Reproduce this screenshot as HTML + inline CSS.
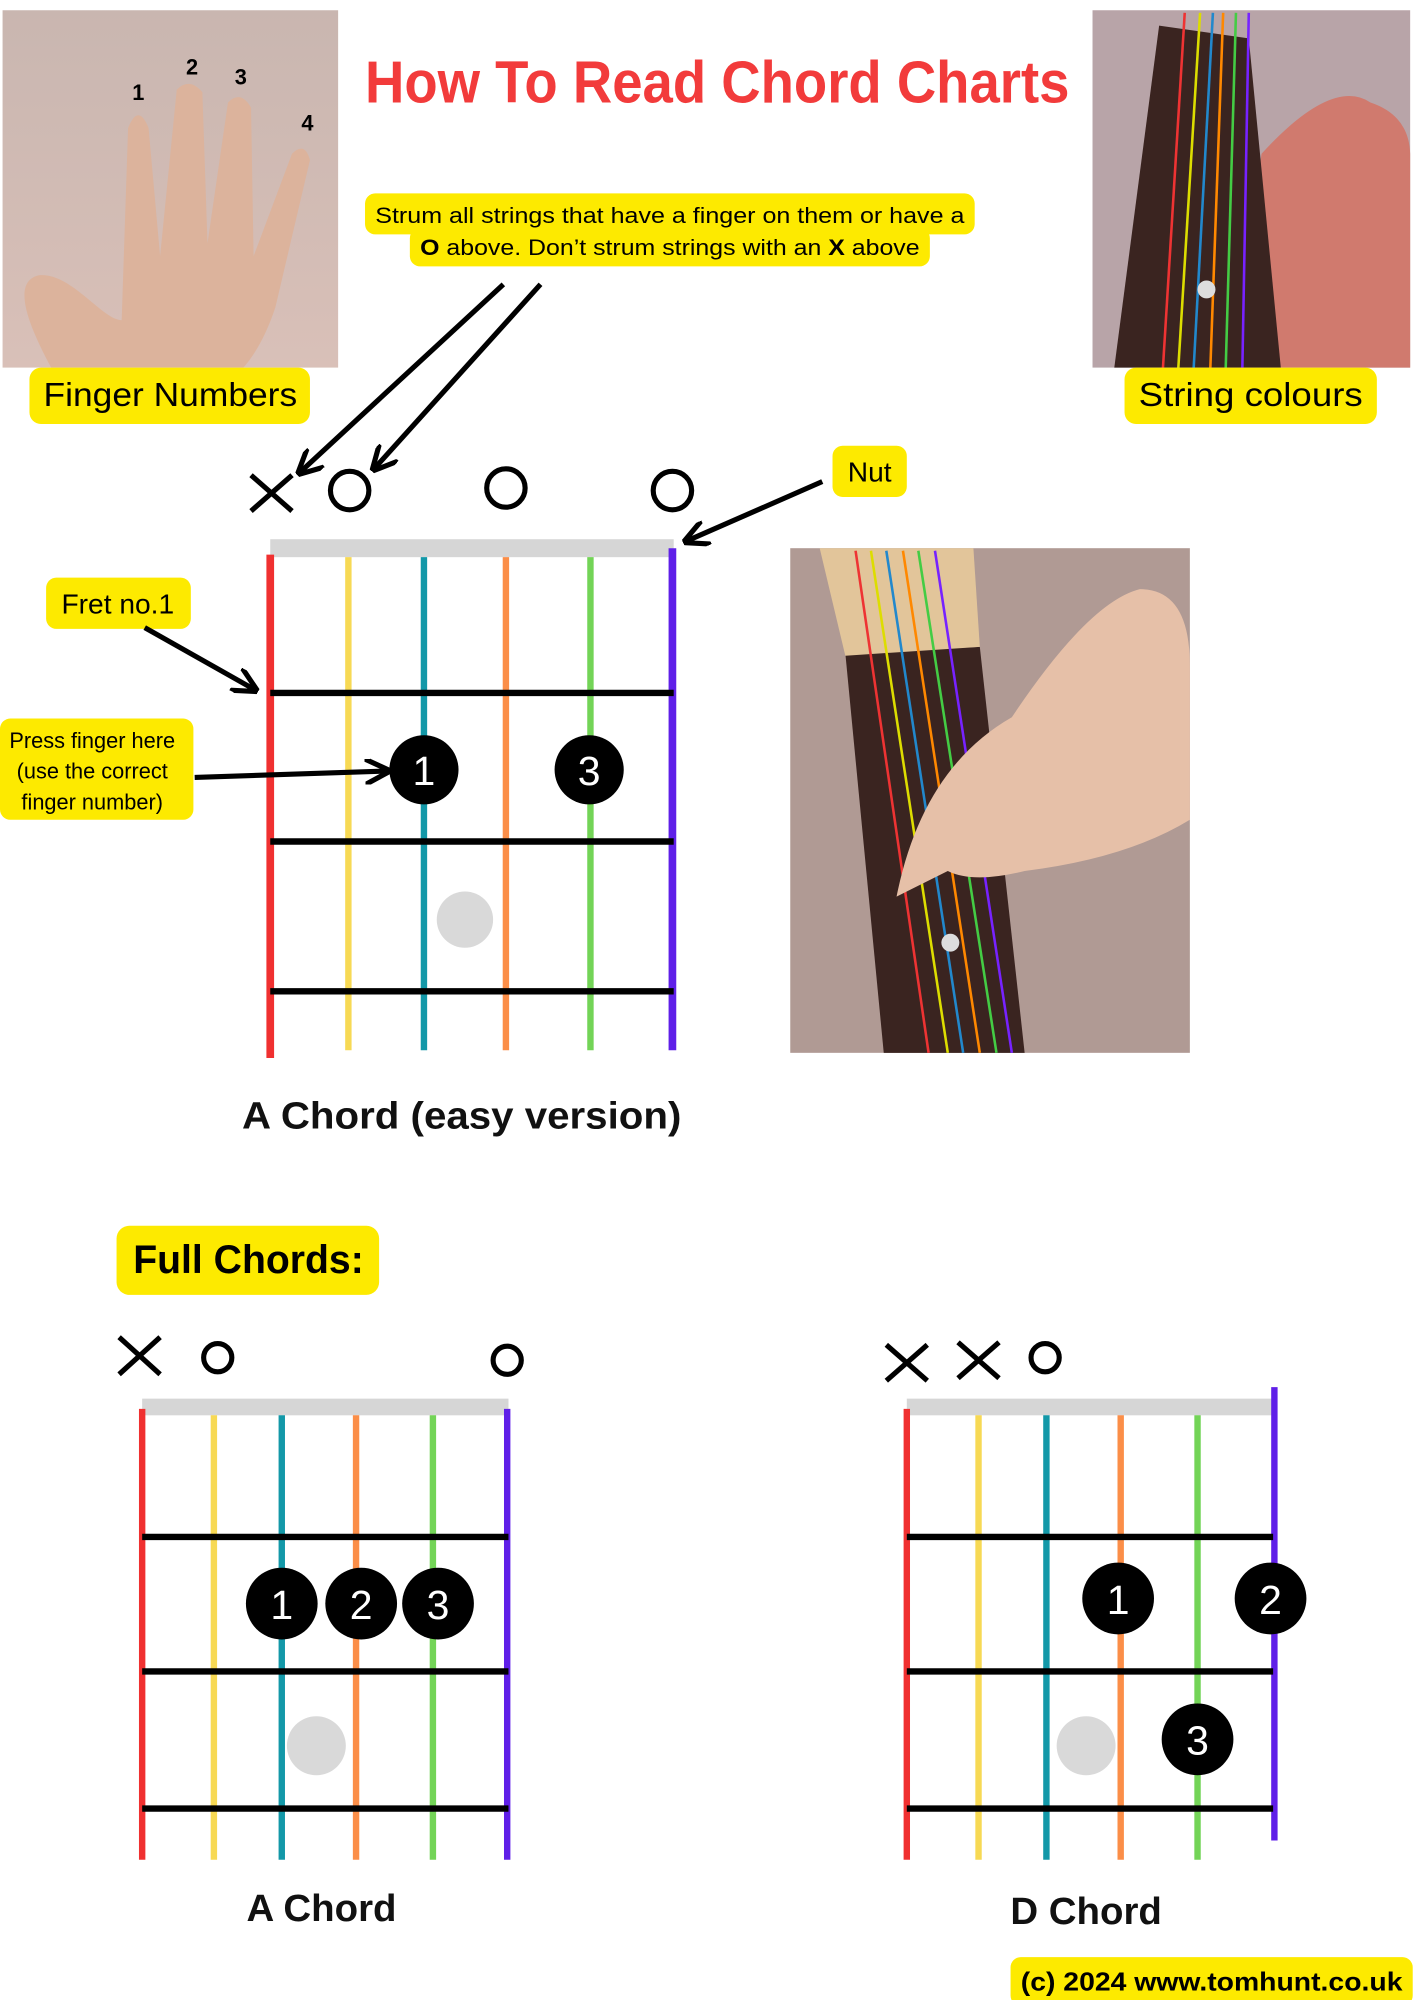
<!DOCTYPE html>
<html><head><meta charset="utf-8"><style>
html,body{margin:0;padding:0;background:#fff;}
svg{display:block;}
text{font-family:"Liberation Sans","DejaVu Sans",sans-serif;}
</style></head><body>
<svg width="1414" height="2000" viewBox="0 0 1104 1561.5" preserveAspectRatio="none" xmlns="http://www.w3.org/2000/svg">
<defs>
<linearGradient id="hand" x1="0" y1="0" x2="0" y2="1"><stop offset="0" stop-color="#c9b6b0"/><stop offset="1" stop-color="#d9c0b8"/></linearGradient>
<marker id="ah" viewBox="0 0 10 10" refX="8" refY="5" markerWidth="5" markerHeight="5" orient="auto"><path d="M0,0 L10,5 L0,10" fill="none" stroke="#000" stroke-width="2"/></marker>
</defs>
<rect x="2" y="8" width="262" height="279" fill="url(#hand)"/>
<path d="M40,287 C20,250 10,220 30,215 C55,212 80,250 95,250 L100,100 Q108,80 116,100 L125,200 L138,70 Q148,60 158,72 L162,190 L178,80 Q188,70 196,84 L198,200 L228,120 Q238,110 242,125 L215,240 Q205,270 190,287 Z" fill="#dcb39c"/>
<text x="108" y="78" font-size="17" font-weight="bold" text-anchor="middle">1</text>
<text x="150" y="58" font-size="17" font-weight="bold" text-anchor="middle">2</text>
<text x="188" y="66" font-size="17" font-weight="bold" text-anchor="middle">3</text>
<text x="240" y="102" font-size="17" font-weight="bold" text-anchor="middle">4</text>
<rect x="23" y="287" width="219" height="44" rx="9" fill="#fdea00"/>
<text x="34" y="317" font-size="26" textLength="198" lengthAdjust="spacingAndGlyphs">Finger Numbers</text>
<text x="285" y="80" font-size="46" font-weight="bold" fill="#f23b3b" textLength="550" lengthAdjust="spacingAndGlyphs">How To Read Chord Charts</text>
<rect x="853" y="8" width="248" height="279" fill="#b8a4a8"/>
<path d="M960,287 L985,120 Q1040,60 1070,80 Q1100,90 1101,120 L1101,287 Z" fill="#d07a6e"/>
<polygon points="870,287 905,20 975,30 1000,287" fill="#3a2420"/>
<line x1="908" y1="287" x2="925" y2="10" stroke="#e33" stroke-width="2"/>
<line x1="920" y1="287" x2="937" y2="10" stroke="#dd0" stroke-width="2"/>
<line x1="932" y1="287" x2="947" y2="10" stroke="#28c" stroke-width="2"/>
<line x1="945" y1="287" x2="955" y2="10" stroke="#f80" stroke-width="2"/>
<line x1="957" y1="287" x2="965" y2="10" stroke="#4c4" stroke-width="2"/>
<line x1="970" y1="287" x2="975" y2="10" stroke="#72f" stroke-width="2"/>
<circle cx="942" cy="226" r="7" fill="#ddd"/>
<rect x="878" y="287" width="197" height="44" rx="9" fill="#fdea00"/>
<text x="889" y="317" font-size="26" textLength="175" lengthAdjust="spacingAndGlyphs">String colours</text>
<rect x="285" y="151" width="476" height="32" rx="8" fill="#fdea00"/>
<rect x="320" y="178" width="406" height="30" rx="8" fill="#fdea00"/>
<text x="293" y="174" font-size="17.5" textLength="460" lengthAdjust="spacingAndGlyphs">Strum all strings that have a finger on them or have a</text>
<text x="328" y="199" font-size="17.5" textLength="390" lengthAdjust="spacingAndGlyphs"><tspan font-weight="bold">O</tspan> above. Don’t strum strings with an <tspan font-weight="bold">X</tspan> above</text>
<line x1="393" y1="222" x2="235" y2="368" stroke="#000" stroke-width="4" marker-end="url(#ah)"/>
<line x1="422" y1="222" x2="293" y2="365" stroke="#000" stroke-width="4" marker-end="url(#ah)"/>
<rect x="650" y="348" width="58" height="40" rx="8" fill="#fdea00"/>
<text x="679" y="376" font-size="22" text-anchor="middle">Nut</text>
<line x1="642" y1="376" x2="537" y2="422" stroke="#000" stroke-width="4" marker-end="url(#ah)"/>
<g stroke="#000" stroke-width="4" fill="none">
<line x1="196" y1="371" x2="228" y2="399"/><line x1="228" y1="371" x2="196" y2="399"/>
<circle cx="273" cy="383" r="15"/><circle cx="395" cy="381" r="15"/><circle cx="525" cy="383" r="15"/>
</g>
<rect x="211" y="421" width="315" height="14" fill="#d6d6d6"/>
<line x1="211" y1="433" x2="211" y2="826" stroke="#f03030" stroke-width="6"/>
<line x1="272" y1="435" x2="272" y2="820" stroke="#f7d954" stroke-width="5"/>
<line x1="331" y1="435" x2="331" y2="820" stroke="#1398a8" stroke-width="5"/>
<line x1="395" y1="435" x2="395" y2="820" stroke="#fb8e48" stroke-width="5"/>
<line x1="461" y1="435" x2="461" y2="820" stroke="#73d457" stroke-width="5"/>
<line x1="525" y1="428" x2="525" y2="820" stroke="#5f1fe8" stroke-width="6"/>
<g stroke="#000" stroke-width="5"><line x1="211" y1="541" x2="526" y2="541"/><line x1="211" y1="657" x2="526" y2="657"/><line x1="211" y1="774" x2="526" y2="774"/></g>
<circle cx="331" cy="601" r="27" fill="#000"/><text x="331" y="613" font-size="32" fill="#fff" text-anchor="middle">1</text>
<circle cx="460" cy="601" r="27" fill="#000"/><text x="460" y="613" font-size="32" fill="#fff" text-anchor="middle">3</text>
<circle cx="363" cy="718" r="22" fill="#d9d9d9"/>
<rect x="36" y="451" width="113" height="40" rx="8" fill="#fdea00"/>
<text x="92" y="479" font-size="22" text-anchor="middle">Fret no.1</text>
<line x1="113" y1="490" x2="198" y2="538" stroke="#000" stroke-width="4" marker-end="url(#ah)"/>
<rect x="0" y="561" width="151" height="79" rx="8" fill="#fdea00"/>
<text x="72" y="584" font-size="17" text-anchor="middle">Press finger here</text>
<text x="72" y="608" font-size="17" text-anchor="middle">(use the correct</text>
<text x="72" y="632" font-size="17" text-anchor="middle">finger number)</text>
<line x1="152" y1="607" x2="301" y2="602" stroke="#000" stroke-width="4" marker-end="url(#ah)"/>
<text x="189" y="881" font-size="30" font-weight="bold" fill="#111" textLength="343" lengthAdjust="spacingAndGlyphs">A Chord (easy version)</text>
<rect x="617" y="428" width="312" height="394" fill="#b09a94"/>
<polygon points="660,510 765,505 800,822 690,822" fill="#3a2420"/>
<polygon points="640,428 760,428 765,505 660,512" fill="#e2c59a"/>
<line x1="668" y1="430" x2="725" y2="822" stroke="#e33" stroke-width="2"/>
<line x1="680" y1="430" x2="740" y2="822" stroke="#dd0" stroke-width="2"/>
<line x1="692" y1="430" x2="752" y2="822" stroke="#28c" stroke-width="2"/>
<line x1="705" y1="430" x2="765" y2="822" stroke="#f80" stroke-width="2"/>
<line x1="717" y1="430" x2="778" y2="822" stroke="#4c4" stroke-width="2"/>
<line x1="730" y1="430" x2="790" y2="822" stroke="#72f" stroke-width="2"/>
<path d="M700,700 Q720,600 790,560 Q850,470 890,460 Q929,460 929,520 L929,640 Q880,670 800,680 Q760,690 740,680 Z" fill="#e6c0a8"/>
<circle cx="742" cy="736" r="7" fill="#ddd"/>
<rect x="91" y="957" width="205" height="54" rx="10" fill="#fdea00"/>
<text x="104" y="994" font-size="31" font-weight="bold" textLength="180" lengthAdjust="spacingAndGlyphs">Full Chords:</text>
<g stroke="#000" stroke-width="4" fill="none">
<line x1="93" y1="1044" x2="125" y2="1073"/><line x1="125" y1="1044" x2="93" y2="1073"/>
<circle cx="170" cy="1060" r="11"/><circle cx="396" cy="1062" r="11"/>
</g>
<rect x="111" y="1092" width="286" height="13" fill="#d6d6d6"/>
<line x1="111" y1="1100" x2="111" y2="1452" stroke="#f03030" stroke-width="5"/>
<line x1="167" y1="1105" x2="167" y2="1452" stroke="#f7d954" stroke-width="5"/>
<line x1="220" y1="1105" x2="220" y2="1452" stroke="#1398a8" stroke-width="5"/>
<line x1="278" y1="1105" x2="278" y2="1452" stroke="#fb8e48" stroke-width="5"/>
<line x1="338" y1="1105" x2="338" y2="1452" stroke="#73d457" stroke-width="5"/>
<line x1="396" y1="1100" x2="396" y2="1452" stroke="#5f1fe8" stroke-width="5"/>
<g stroke="#000" stroke-width="5"><line x1="111" y1="1200" x2="397" y2="1200"/><line x1="111" y1="1305" x2="397" y2="1305"/><line x1="111" y1="1412" x2="397" y2="1412"/></g>
<circle cx="220" cy="1252" r="28" fill="#000"/><text x="220" y="1264" font-size="32" fill="#fff" text-anchor="middle">1</text>
<circle cx="282" cy="1252" r="28" fill="#000"/><text x="282" y="1264" font-size="32" fill="#fff" text-anchor="middle">2</text>
<circle cx="342" cy="1252" r="28" fill="#000"/><text x="342" y="1264" font-size="32" fill="#fff" text-anchor="middle">3</text>
<circle cx="247" cy="1363" r="23" fill="#d9d9d9"/>
<text x="251" y="1500" font-size="30" font-weight="bold" text-anchor="middle" fill="#111">A Chord</text>
<g stroke="#000" stroke-width="4" fill="none">
<line x1="692" y1="1050" x2="724" y2="1078"/><line x1="724" y1="1050" x2="692" y2="1078"/>
<line x1="748" y1="1048" x2="780" y2="1076"/><line x1="780" y1="1048" x2="748" y2="1076"/>
<circle cx="816" cy="1060" r="11"/>
</g>
<rect x="708" y="1092" width="286" height="13" fill="#d6d6d6"/>
<line x1="708" y1="1100" x2="708" y2="1452" stroke="#f03030" stroke-width="5"/>
<line x1="764" y1="1105" x2="764" y2="1452" stroke="#f7d954" stroke-width="5"/>
<line x1="817" y1="1105" x2="817" y2="1452" stroke="#1398a8" stroke-width="5"/>
<line x1="875" y1="1105" x2="875" y2="1452" stroke="#fb8e48" stroke-width="5"/>
<line x1="935" y1="1105" x2="935" y2="1452" stroke="#73d457" stroke-width="5"/>
<line x1="995" y1="1083" x2="995" y2="1437" stroke="#5f1fe8" stroke-width="5"/>
<g stroke="#000" stroke-width="5"><line x1="708" y1="1200" x2="994" y2="1200"/><line x1="708" y1="1305" x2="994" y2="1305"/><line x1="708" y1="1412" x2="994" y2="1412"/></g>
<circle cx="873" cy="1248" r="28" fill="#000"/><text x="873" y="1260" font-size="32" fill="#fff" text-anchor="middle">1</text>
<circle cx="992" cy="1248" r="28" fill="#000"/><text x="992" y="1260" font-size="32" fill="#fff" text-anchor="middle">2</text>
<circle cx="935" cy="1358" r="28" fill="#000"/><text x="935" y="1370" font-size="32" fill="#fff" text-anchor="middle">3</text>
<circle cx="848" cy="1363" r="23" fill="#d9d9d9"/>
<text x="848" y="1502" font-size="30" font-weight="bold" text-anchor="middle" fill="#111">D Chord</text>
<rect x="789" y="1528" width="314" height="38" rx="8" fill="#fdea00"/>
<text x="797" y="1554" font-size="20" font-weight="bold" textLength="298" lengthAdjust="spacingAndGlyphs">(c) 2024 www.tomhunt.co.uk</text>
</svg>
</body></html>
